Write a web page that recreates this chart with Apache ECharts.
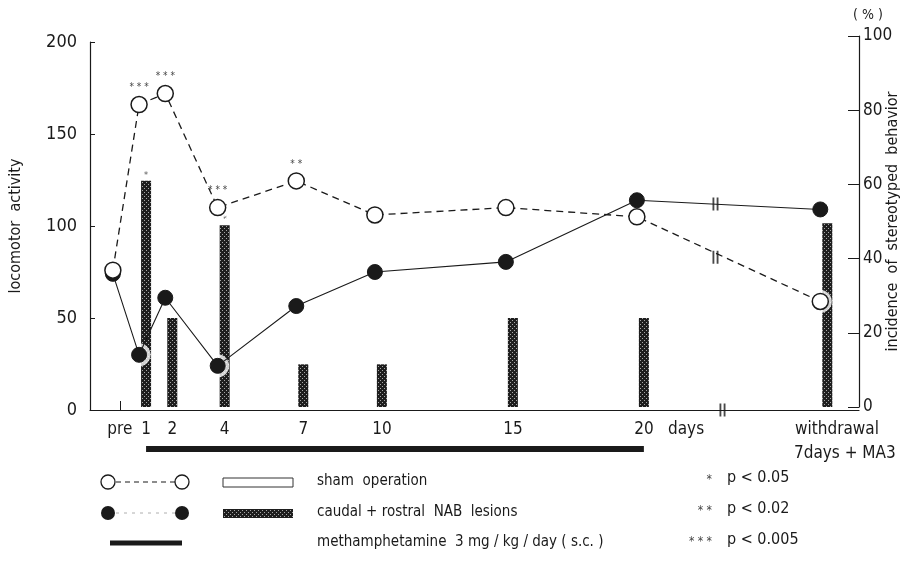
<!DOCTYPE html>
<html><head><meta charset="utf-8">
<script src="https://cdn.jsdelivr.net/npm/echarts@6/dist/echarts.min.js"></script>
<style>html,body{margin:0;padding:0;background:#fff}#c{width:917px;height:567px}</style>
</head><body><div id="c"></div>
<script>
// ---- data ----
const days = [0, 1, 2, 4, 7, 10, 15, 20, 27];          // 27 = withdrawal 7 days + MA3
const tickDays = [0, 1, 2, 4, 7, 10, 15, 20];
const tickLabels = ['pre', '1', '2', '4', '7', '10', '15', '20'];
const shamActivity = [76, 166, 172, 110, 124.5, 106, 110, 105, 59];
const lesionActivity = [74, 30, 61, 24, 56.5, 75, 80.5, 114, 109];
const shamStars = ['', '* * *', '* * *', '* * *', '* *', '', '', '', ''];
const barDays = [1, 2, 4, 7, 10, 15, 20, 27];
const lesionStereotypy = [61, 24, 49, 11.5, 11.5, 24, 24, 49.5];
const barStars = ['*', '', '*', '', '', '', '', ''];
const methDays = [1, 20];
const breakDay = 23;
const breakValues = [83, 112];

const FONT = '"DejaVu Sans Condensed", "DejaVu Sans", sans-serif';
const INK = '#1a1a1a';

function makePattern() {
  const c = document.createElement('canvas');
  c.width = 4; c.height = 4;
  const g = c.getContext('2d');
  g.fillStyle = '#1e1e1e'; g.fillRect(0, 0, 4, 4);
  g.fillStyle = '#a8a8a8'; g.fillRect(0, 0, 1, 1); g.fillRect(2, 2, 1, 1);
  return c;
}
const pat = makePattern();
const patFill = { image: pat, repeat: 'repeat' };

const X_MIN = -1.14, X_MAX = 28.21;
const breakPath = 'path://M0,0h1.6v12h-1.6zM3.6,0h1.6v12h-1.6z';

const chart = echarts.init(document.getElementById('c'), null, { renderer: 'canvas' });

const G = { outerBoundsMode: 'none', containLabel: false };
const option = {
  backgroundColor: '#fff',
  animation: false,
  textStyle: { fontFamily: FONT, color: INK },
  grid: [
    Object.assign({ left: 90, right: 58, top: 42, bottom: 157 }, G),   // 0: left axis, x axis
    Object.assign({ left: 90, right: 58, top: 36, bottom: 160 }, G),   // 1: right axis (bars)
    Object.assign({ left: 83, right: 65, top: 42, bottom: 157 }, G),   // 2: lines (drawn slightly left in reference)
    Object.assign({ left: 90, right: 58, top: 446, height: 6 }, G)     // 3: methamphetamine bar
  ],
  xAxis: [
    { gridIndex: 0, type: 'value', min: X_MIN, max: X_MAX,
      axisLine: { show: true, onZero: false, lineStyle: { color: INK, width: 1.2 } },
      splitLine: { show: false },
      axisTick: { show: true, inside: true, length: 9, customValues: [0], lineStyle: { color: INK } },
      axisLabel: { show: true, customValues: tickDays, fontSize: 17, color: INK, margin: 11,
        formatter: v => tickLabels[tickDays.indexOf(v)] } },
    { gridIndex: 1, type: 'value', min: X_MIN, max: X_MAX, show: false },
    { gridIndex: 2, type: 'value', min: X_MIN, max: X_MAX, show: false },
    { gridIndex: 3, type: 'value', min: X_MIN, max: X_MAX, show: false }
  ],
  yAxis: [
    { gridIndex: 0, type: 'value', min: 0, max: 200, interval: 50, position: 'left',
      name: 'locomotor  activity', nameLocation: 'middle', nameGap: 66,
      nameTextStyle: { fontSize: 16, color: INK, fontFamily: FONT },
      axisLine: { show: true, onZero: false, lineStyle: { color: INK, width: 1.2 } },
      axisTick: { show: true, inside: true, length: 5, lineStyle: { color: INK } },
      axisLabel: { fontSize: 18, color: INK, margin: 13 },
      splitLine: { show: false } },
    { gridIndex: 1, type: 'value', min: 0, max: 100, interval: 20, position: 'right',
      name: 'incidence  of  stereotyped  behavior', nameLocation: 'middle', nameGap: 26, nameRotate: 90,
      nameMoveOverlap: false,
      nameTextStyle: { fontSize: 16, color: INK, fontFamily: FONT },
      axisLine: { show: true, onZero: false, lineStyle: { color: INK, width: 1.2 } },
      axisTick: { show: true, inside: true, length: 11, lineStyle: { color: INK } },
      axisLabel: { fontSize: 17, color: INK, margin: 4 },
      splitLine: { show: false } },
    { gridIndex: 2, type: 'value', min: 0, max: 200, show: false },
    { gridIndex: 3, type: 'value', min: 0, max: 1, show: false }
  ],
  series: [
    { type: 'bar', xAxisIndex: 1, yAxisIndex: 1, z: 2, barWidth: 10,
      data: barDays.map((d, i) => ({ value: [d, lesionStereotypy[i]],
        label: { show: !!barStars[i], formatter: barStars[i], position: 'top', distance: 1, fontSize: 9, color: '#555' } })),
      itemStyle: { color: patFill } },
    { type: 'scatter', xAxisIndex: 2, yAxisIndex: 2, z: 3, symbol: 'circle', symbolSize: 23, silent: true,
      itemStyle: { color: '#fff' },
      data: days.map((d, i) => [d, shamActivity[i]]).concat(days.map((d, i) => [d, lesionActivity[i]])) },
    { type: 'line', name: 'caudal + rostral NAB lesions', xAxisIndex: 2, yAxisIndex: 2, z: 4,
      data: days.map((d, i) => [d, lesionActivity[i]]),
      symbol: 'circle', symbolSize: 15,
      lineStyle: { color: INK, width: 1.1, type: 'solid' },
      itemStyle: { color: INK, borderColor: INK, borderWidth: 1 } },
    { type: 'line', name: 'sham operation', xAxisIndex: 2, yAxisIndex: 2, z: 5,
      data: days.map((d, i) => ({ value: [d, shamActivity[i]],
        label: { show: !!shamStars[i], formatter: shamStars[i], position: 'top', distance: 3, fontSize: 10, color: '#444' } })),
      symbol: 'circle', symbolSize: 16,
      lineStyle: { color: INK, width: 1.3, type: [7, 5] },
      itemStyle: { color: '#fff', borderColor: INK, borderWidth: 1.5 } },
    { type: 'scatter', xAxisIndex: 2, yAxisIndex: 2, z: 6, symbol: breakPath, symbolSize: [6, 13], silent: true,
      itemStyle: { color: INK },
      data: breakValues.map(v => [breakDay, v]) },
    { type: 'scatter', xAxisIndex: 0, yAxisIndex: 0, z: 6, symbol: breakPath, symbolSize: [6, 13], silent: true,
      itemStyle: { color: INK }, clip: false,
      data: [[breakDay, 0]] },
    { type: 'line', name: 'methamphetamine', xAxisIndex: 3, yAxisIndex: 3, z: 4, symbol: 'none',
      data: methDays.map(d => [d, 0.5]),
      lineStyle: { color: INK, width: 6 } }
  ],
  graphic: [
    { type: 'text', left: 853, top: 8, style: { text: '( % )', fontSize: 14, fontFamily: FONT, fill: INK } },
    { type: 'text', left: 668, top: 421, style: { text: 'days', fontSize: 17, fontFamily: FONT, fill: INK } },
    { type: 'text', left: 795, top: 421, style: { text: 'withdrawal', fontSize: 17, fontFamily: FONT, fill: INK } },
    { type: 'text', left: 794, top: 445, style: { text: '7days + MA3', fontSize: 17, fontFamily: FONT, fill: INK } },
    // legend row 1
    { type: 'line', shape: { x1: 116, y1: 482, x2: 175, y2: 482 }, style: { stroke: INK, lineWidth: 1.2, lineDash: [5, 4] } },
    { type: 'circle', shape: { cx: 108, cy: 482, r: 7 }, style: { fill: '#fff', stroke: INK, lineWidth: 1.3 } },
    { type: 'circle', shape: { cx: 182, cy: 482, r: 7 }, style: { fill: '#fff', stroke: INK, lineWidth: 1.3 } },
    { type: 'rect', shape: { x: 223, y: 478, width: 70, height: 9 }, style: { fill: '#fff', stroke: '#333', lineWidth: 1 } },
    { type: 'text', left: 317, top: 474, style: { text: 'sham  operation', fontSize: 15, fontFamily: FONT, fill: INK } },
    // legend row 2
    { type: 'line', shape: { x1: 116, y1: 513, x2: 175, y2: 513 }, style: { stroke: '#999', lineWidth: 0.8, lineDash: [3, 5] } },
    { type: 'circle', shape: { cx: 108, cy: 513, r: 7 }, style: { fill: INK } },
    { type: 'circle', shape: { cx: 182, cy: 513, r: 7 }, style: { fill: INK } },
    { type: 'rect', shape: { x: 223, y: 509, width: 70, height: 9 }, style: { fill: patFill } },
    { type: 'text', left: 317, top: 505, style: { text: 'caudal + rostral  NAB  lesions', fontSize: 15, fontFamily: FONT, fill: INK } },
    // legend row 3
    { type: 'line', shape: { x1: 110, y1: 543, x2: 182, y2: 543 }, style: { stroke: INK, lineWidth: 5 } },
    { type: 'text', left: 317, top: 535, style: { text: 'methamphetamine  3 mg / kg / day ( s.c. )', fontSize: 15, fontFamily: FONT, fill: INK } },
    // significance legend
    { type: 'text', right: 917 - 712, top: 474, style: { text: '*', fontSize: 12, fontFamily: FONT, fill: '#444', align: 'right' } },
    { type: 'text', left: 727, top: 470, style: { text: 'p < 0.05', fontSize: 16, fontFamily: FONT, fill: INK } },
    { type: 'text', right: 917 - 712, top: 505, style: { text: '* *', fontSize: 12, fontFamily: FONT, fill: '#444', align: 'right' } },
    { type: 'text', left: 727, top: 501, style: { text: 'p < 0.02', fontSize: 16, fontFamily: FONT, fill: INK } },
    { type: 'text', right: 917 - 712, top: 536, style: { text: '* * *', fontSize: 12, fontFamily: FONT, fill: '#444', align: 'right' } },
    { type: 'text', left: 727, top: 532, style: { text: 'p < 0.005', fontSize: 16, fontFamily: FONT, fill: INK } }
  ]
};
chart.setOption(option);
</script>
</body></html>
